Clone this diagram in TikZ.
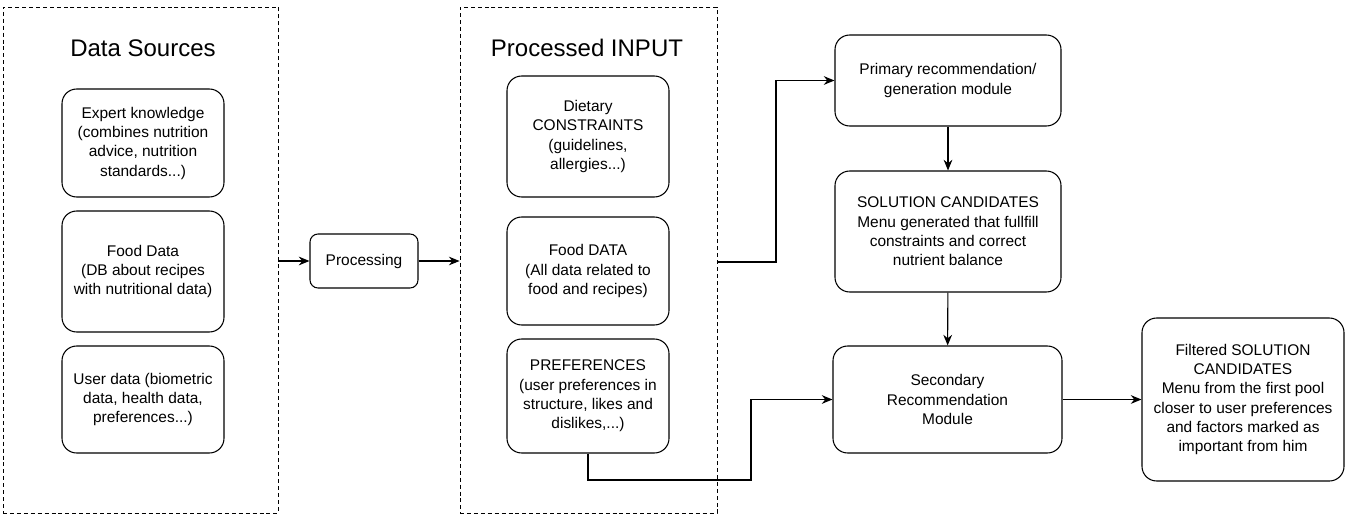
\documentclass[tikz,border=0pt]{standalone}
\usepackage{fontspec}
\setmainfont{Liberation Sans}
\usetikzlibrary{arrows.meta, positioning}

\tikzset{
  box/.style={draw, line width=0.8pt, rounded corners=11pt, align=center,
    inner sep=2pt, font=\fontsize{11.6}{14.5}\selectfont},
  group/.style={draw, line width=0.7pt, dash pattern=on 3pt off 2.2pt,
    minimum height=379.5pt},
  grouptitle/.style={font=\fontsize{18}{21}\selectfont},
  link/.style={draw, line width=0.8pt, ->}
}

\begin{document}
\begin{tikzpicture}[x=0.75pt, y=-0.75pt, >={Stealth[length=8pt, width=6.5pt]}]
  \useasboundingbox (0,0) rectangle (1350,514);

  % Data sources
  \node[group, minimum width=206.25pt] (srcbox) at (140.5,260) {};
  \node[grouptitle] (srctitle) at (143,48) {Data Sources};
  \node[box, minimum width=121.5pt, minimum height=81pt] (expert) at (143,143)
    {Expert knowledge\\(combines nutrition\\advice, nutrition\\standards...)};
  \node[box, minimum width=121.5pt, minimum height=90.75pt] (fooddb) at (143,271.5)
    {Food Data\\(DB about recipes\\with nutritional data)};
  \node[box, minimum width=121.5pt, minimum height=80.25pt] (userdata) at (143,399.5)
    {User data (biometric\\data, health data,\\preferences...)};

  % Processing step
  \node[box, rounded corners=6pt, minimum width=81pt, minimum height=40.5pt] (proc) at (364,261)
    {Processing};

  % Processed input
  \node[group, minimum width=192.75pt] (inbox) at (588.5,260) {};
  \node[grouptitle] (intitle) at (587,48) {Processed INPUT};
  \node[box, minimum width=121.5pt, minimum height=90.75pt] (dietary) at (588,136.5)
    {Dietary\\CONSTRAINTS\\(guidelines,\\allergies...)};
  \node[box, minimum width=121.5pt, minimum height=81pt] (fooddata) at (588,271)
    {Food DATA\\(All data related to\\food and recipes)};
  \node[box, minimum width=121.5pt, minimum height=85.5pt] (prefs) at (588,396)
    {PREFERENCES\\(user preferences in\\structure, likes and\\dislikes,...)};

  % Recommendation modules
  \node[box, minimum width=169.5pt, minimum height=68.25pt] (primary) at (948,80.5)
    {Primary recommendation/\\generation module};
  \node[box, minimum width=169.5pt, minimum height=90.75pt] (candidates) at (948,231.5)
    {SOLUTION CANDIDATES\\Menu generated that fullfill\\constraints and correct\\nutrient balance};
  \node[box, minimum width=171.75pt, minimum height=80.25pt] (secondary) at (947.5,399.5)
    {Secondary\\Recommendation\\Module};
  \node[box, minimum width=151.5pt, minimum height=122.25pt] (filtered) at (1243,399.5)
    {Filtered SOLUTION\\CANDIDATES\\Menu from the first pool\\closer to user preferences\\and factors marked as\\important from him};

  % Connectors
  \coordinate (inbend) at (776,262);
  \coordinate (prefbend) at (751,480);
  \draw[link] (srcbox.east |- proc.west) -- (proc.west);
  \draw[link] (proc.east) -- (inbox.west |- proc.east);
  \draw[link] (inbox.east |- inbend) -- (inbend) |- (primary.west);
  \draw[link] (prefs.south) |- (prefbend) |- (secondary.west);
  \draw[link] (primary) -- (candidates);
  \draw[link] (candidates) -- (secondary);
  \draw[link] (secondary) -- (filtered);
\end{tikzpicture}
\end{document}
